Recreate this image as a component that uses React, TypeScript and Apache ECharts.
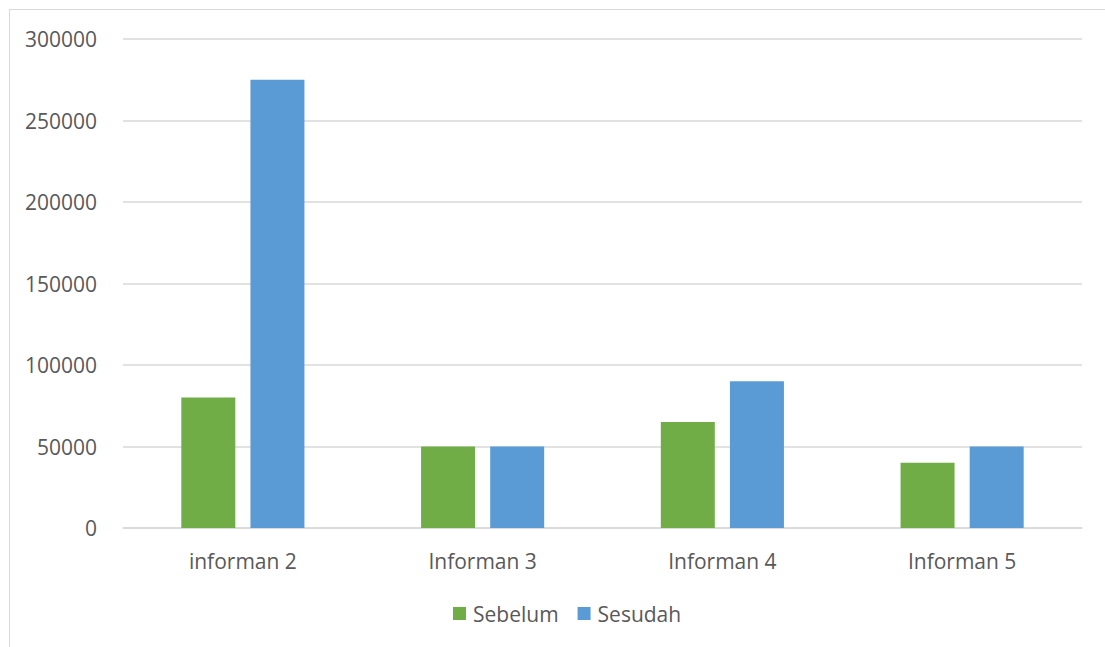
import React, { useEffect, useRef } from "react";
import * as echarts from "echarts";

const categories = ["informan 2", "Informan 3", "Informan 4", "Informan 5"];
const sebelum = [80000, 50000, 65000, 40000];
const sesudah = [275000, 50000, 90000, 50000];

const FONT = "'Open Sans', 'Noto Sans', sans-serif";
const TEXT = "#595959";

export default function App() {
  const ref = useRef<HTMLDivElement>(null);

  useEffect(() => {
    document.body.style.overflow = "hidden";
    if (!ref.current) return;
    const chart = echarts.init(ref.current, undefined, { renderer: "svg" });
    chart.setOption({
      animation: false,
      backgroundColor: "#ffffff",
      textStyle: { fontFamily: FONT },
      grid: { left: 113, right: 22, top: 29, bottom: 118, containLabel: false },
      legend: {
        bottom: 17,
        left: 438,
        itemWidth: 13,
        itemHeight: 13,
        itemGap: 19,
        icon: "rect",
        textStyle: { color: TEXT, fontSize: 21, fontFamily: FONT, padding: [0, 0, 0, 2] },
        data: ["Sebelum", "Sesudah"],
      },
      xAxis: {
        type: "category",
        data: categories,
        axisTick: { show: false },
        axisLine: { lineStyle: { color: "#d9d9d9", width: 1.5 } },
        axisLabel: { color: TEXT, fontSize: 21, fontFamily: FONT, margin: 22 },
      },
      yAxis: {
        type: "value",
        min: 0,
        max: 300000,
        interval: 50000,
        axisLine: { show: false },
        axisTick: { show: false },
        splitLine: { lineStyle: { color: "#d9d9d9", width: 1.5 } },
        axisLabel: {
          color: TEXT,
          fontSize: 21,
          fontFamily: FONT,
          margin: 26,
          formatter: (v: number) => String(v),
        },
      },
      series: [
        {
          name: "Sebelum",
          type: "bar",
          data: sebelum,
          barWidth: 54,
          barGap: "28%",
          itemStyle: { color: "#70AD47" },
        },
        {
          name: "Sesudah",
          type: "bar",
          data: sesudah,
          barWidth: 54,
          itemStyle: { color: "#5B9BD5" },
        },
      ],
    });
    return () => chart.dispose();
  }, []);

  return (
    <div
      style={{
        position: "absolute",
        left: 9,
        top: 9,
        width: 1096,
        height: 638,
        borderLeft: "1.5px solid #d9d9d9",
        borderTop: "1.5px solid #d9d9d9",
        boxSizing: "border-box",
        background: "#fff",
      }}
    >
      <div ref={ref} style={{ width: 1094, height: 636 }} />
    </div>
  );
}
